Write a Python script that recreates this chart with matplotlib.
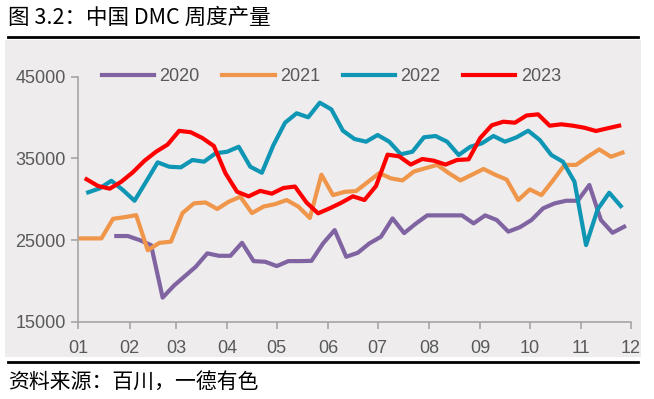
import matplotlib
matplotlib.use("Agg")
import matplotlib.pyplot as plt
import matplotlib.dates as mdates
import pandas as pd

# weekly DMC output (t), first Friday of each year's series
start_2020 = "2020-01-24"
start_2021 = "2021-01-01"
start_2022 = "2022-01-07"
start_2023 = "2023-01-06"

v2020 = [25490, 25490, 25000, 24380, 17950, 19450, 20500, 21730, 23370, 23070,
         23070, 24660, 22420, 22340, 21810, 22420, 22420, 22450, 24590, 26220,
         22950, 23440, 24590, 25400, 27650, 25850, 27000, 28020, 28020, 28020,
         28020, 27040, 28020, 27450, 26030, 26570, 27450, 28880, 29490, 29810,
         29810, 31740, 27450, 25890, 26630]
v2021 = [25200, 25200, 25200, 27600, 27800, 28050, 23750, 24650, 24800, 28300,
         29500, 29600, 28800, 29700, 30300, 28300, 29100, 29400, 29900, 29100,
         27700, 33000, 30500, 30900, 31000, 32100, 33200, 32550, 32300, 33400,
         33800, 34200, 33200, 32300, 33000, 33700, 33000, 32400, 29900, 31200,
         30500, 32300, 34200, 34200, 35200, 36100, 35200, 35700]
v2022 = [30840, 31330, 32260, 31120, 29810, 32140, 34510, 33975, 33900, 34800,
         34590, 35620, 35810, 36420, 33975, 33240, 36630, 39365, 40520, 40030,
         41815, 41000, 38385, 37370, 37040, 37860, 37040, 35500, 35810, 37580,
         37740, 37040, 35410, 36420, 36840, 37740, 37040, 37580, 38385, 37250,
         35410, 34590, 32140, 24380, 28760, 30790, 29160]
v2023 = [32440, 31610, 31290, 32140, 33300, 34700, 35810, 36690, 38370, 38200,
         37490, 36510, 33170, 30910, 30350, 31020, 30680, 31370, 31550, 29590,
         28270, 28880, 29565, 30350, 29900, 31610, 35450, 35250, 34240, 34920,
         34710, 34240, 34800, 34880, 37490, 39050, 39490, 39365, 40250, 40390,
         39000, 39170, 39000, 38750, 38350, 38680, 39000]

series = [("2020", start_2020, v2020, "#8064A2"),
          ("2021", start_2021, v2021, "#F0964A"),
          ("2022", start_2022, v2022, "#0F96B4"),
          ("2023", start_2023, v2023, "#FF0000")]

yticks = [15000, 25000, 35000, 45000]
cjk = ["Noto Sans CJK SC", "DejaVu Sans"]
txt = "#595959"
plt.rcParams["font.family"] = ["Liberation Sans", "DejaVu Sans"]

fig = plt.figure(figsize=(6.54, 3.99), dpi=100)
fig.patches.append(plt.Rectangle((0.008, 0.105), 0.972, 0.795, transform=fig.transFigure,
                                 facecolor="#EEECED", edgecolor="none", zorder=0))
ax = fig.add_axes([0.1197, 0.1937, 0.8447, 0.6141])
ax.set_facecolor("none")
ax.set_zorder(2)

for name, start, vals, col in series:
    d = pd.date_range(start, periods=len(vals), freq="7D")
    # put every year on the same calendar
    d = pd.to_datetime({"year": 2001, "month": d.month, "day": d.day})
    ax.plot(d, vals, color=col, lw=3, label=name)

ax.set_xlim(pd.Timestamp("2001-01-01"), pd.Timestamp("2001-12-01"))
ax.set_ylim(15000, 45000)
ax.set_yticks(yticks)
ax.xaxis.set_major_locator(mdates.MonthLocator())
ax.xaxis.set_major_formatter(mdates.DateFormatter("%m"))
for s in ["top", "right"]:
    ax.spines[s].set_visible(False)
for s in ["left", "bottom"]:
    ax.spines[s].set_color("#A6A6A6")
    ax.spines[s].set_linewidth(1.2)
ax.tick_params(colors="#A6A6A6", labelcolor=txt, labelsize=13, length=5, width=1.2)
ax.tick_params(axis="x", pad=8)
ax.tick_params(axis="y", pad=4)

leg = ax.legend(loc="center", bbox_to_anchor=(0.458, 1.0), ncol=4, frameon=False,
                fontsize=13, handlelength=2.9, handletextpad=0.3, columnspacing=1.25)
for t in leg.get_texts():
    t.set_color(txt)

fig.text(0.012, 0.955, "图 3.2：中国 DMC 周度产量", fontsize=15.5, family=cjk, va="center")
fig.add_artist(plt.Line2D([0.012, 0.976], [0.908, 0.908], color="black", lw=2,
                          transform=fig.transFigure))
fig.add_artist(plt.Line2D([0.012, 0.976], [0.093, 0.093], color="black", lw=2,
                          transform=fig.transFigure))
fig.text(0.012, 0.042, "资料来源：百川，一德有色", fontsize=15, family=cjk, va="center")

fig.savefig("out.png", dpi=100)
